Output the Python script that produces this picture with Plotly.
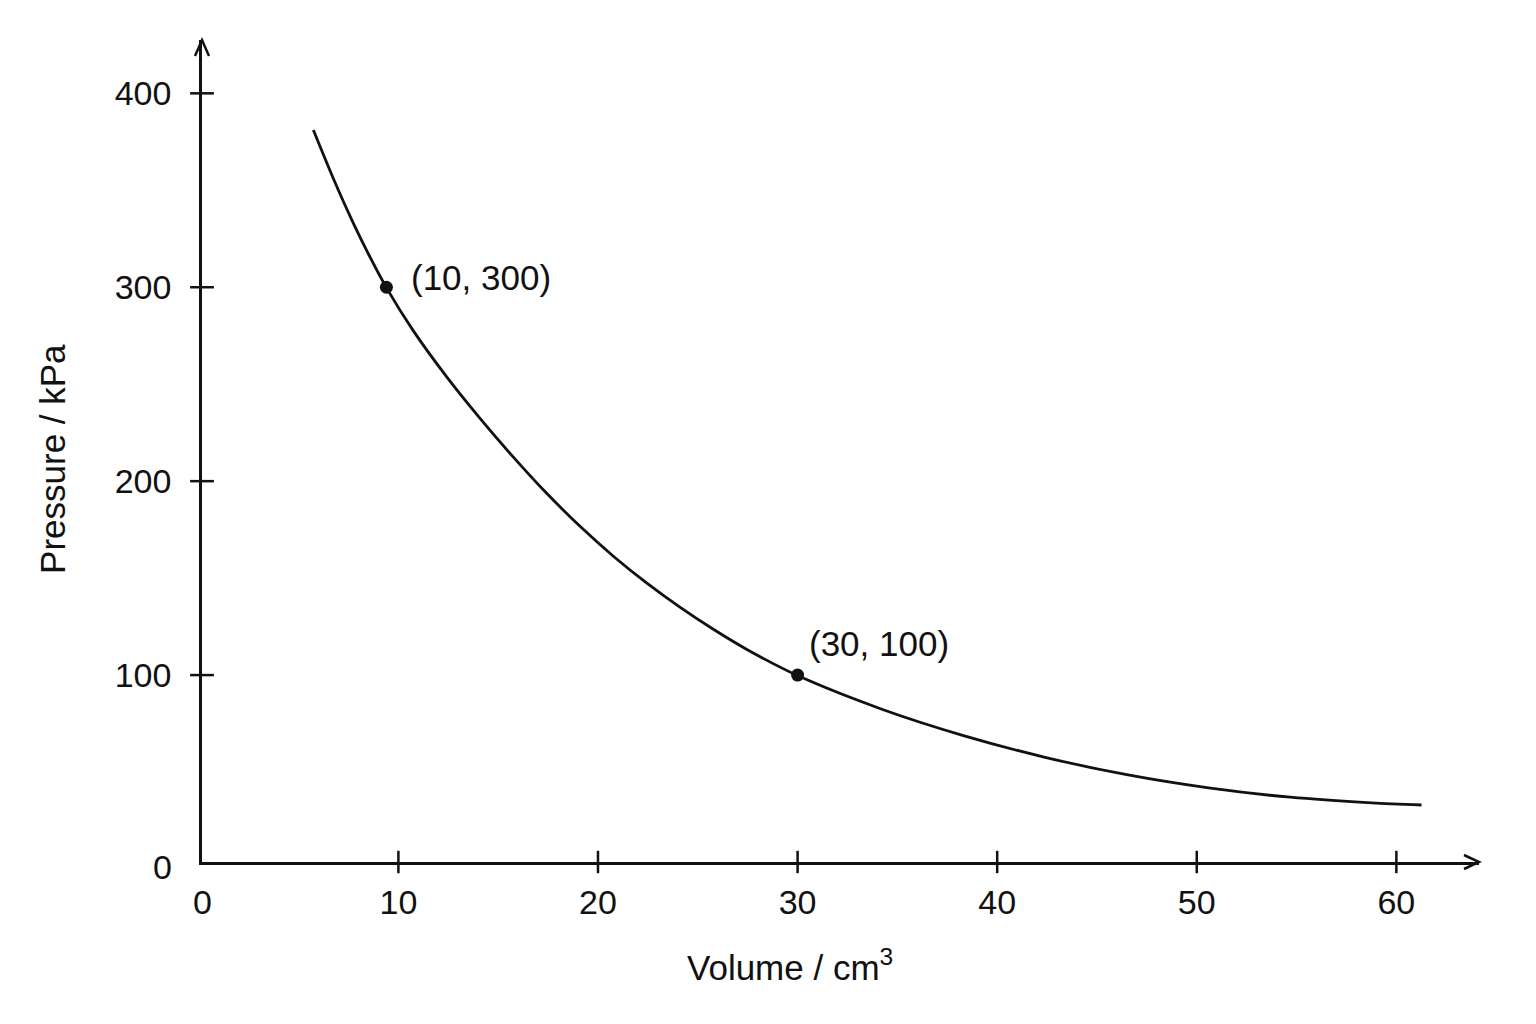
import plotly.graph_objects as go

# ---- data ----
volume = [5.74, 6.74, 7.74, 8.58, 9.42, 10.75, 12.42, 14.09, 15.76, 17.44,
          19.10, 20.77, 22.45, 24.12, 25.78, 27.46, 30.03, 34.22, 38.31, 42.40,
          46.49, 50.59, 54.68, 58.77, 61.26]
pressure = [381.1, 356.1, 333.1, 315.5, 299.4, 277.5, 253.8, 232.4, 212.4, 193.6,
            176.7, 161.3, 147.4, 134.9, 123.6, 113.2, 99.6, 82.4, 68.8, 57.6,
            48.6, 41.8, 37.0, 34.1, 33.0]

point_volume = [9.4, 30.0]
point_pressure = [300, 100]
point_labels = ["(10, 300)", "(30, 100)"]

x_tick_vals = [10, 20, 30, 40, 50, 60]
y_tick_vals = [100, 200, 300, 400]
origin_label = "0"

x_title = "Volume / cm<sup>3</sup>"
y_title = "Pressure / kPa"

# ---- axis extents (axis lines sit at the range starts, arrows at range ends) ----
X_START, X_END = 0.16, 64.14
Y_START, Y_END = 3.6, 427.5

FONT = "Liberation Sans, Arial, Helvetica, sans-serif"
INK = "#111111"
LW = 2.5
label_shifts = [(23, 10), (9, 32)]

fig = go.Figure()

# curve
fig.add_trace(go.Scatter(
    x=volume, y=pressure, mode="lines",
    line=dict(color=INK, width=2.8, shape="spline", smoothing=0.8),
    hoverinfo="skip", showlegend=False))

# labelled points
fig.add_trace(go.Scatter(
    x=point_volume, y=point_pressure, mode="markers",
    marker=dict(color=INK, size=13),
    hoverinfo="skip", showlegend=False))

# crossing tick marks
fig.add_trace(go.Scatter(
    x=x_tick_vals, y=[Y_START] * len(x_tick_vals), mode="markers",
    marker=dict(symbol="line-ns", size=16, color=INK, line=dict(color=INK, width=LW)),
    cliponaxis=False, hoverinfo="skip", showlegend=False))
fig.add_trace(go.Scatter(
    x=[X_START] * len(y_tick_vals), y=y_tick_vals, mode="markers",
    marker=dict(symbol="line-ew", size=17, color=INK, line=dict(color=INK, width=LW)),
    cliponaxis=False, hoverinfo="skip", showlegend=False))

annotations = []
for vx, py, txt, (dx, dy) in zip(point_volume, point_pressure, point_labels, label_shifts):
    annotations.append(dict(
        x=vx, y=py, xref="x", yref="y", text=txt, showarrow=False,
        xanchor="left", yanchor="middle", xshift=dx, yshift=dy,
        font=dict(family=FONT, size=35, color=INK)))

# origin labels
annotations.append(dict(x=0, y=0, xref="paper", yref="paper", text=origin_label,
                        showarrow=False, xanchor="center", yanchor="middle",
                        yshift=-40, font=dict(family=FONT, size=34, color=INK)))
annotations.append(dict(x=0, y=0, xref="paper", yref="paper", text=origin_label,
                        showarrow=False, xanchor="right", yanchor="middle",
                        xshift=-28, yshift=-5, font=dict(family=FONT, size=34, color=INK)))

# axis titles
annotations.append(dict(x=0.4606, y=-0.1253, xref="paper", yref="paper", text=x_title,
                        showarrow=False, xanchor="center", yanchor="middle",
                        font=dict(family=FONT, size=35, color=INK)))
annotations.append(dict(x=-0.1167, y=0.4903, xref="paper", yref="paper", text=y_title,
                        showarrow=False, xanchor="center", yanchor="middle", textangle=-90,
                        font=dict(family=FONT, size=35, color=INK)))

# open arrow heads at the axis ends
shapes = [
    dict(type="path", xref="paper", yref="paper", xsizemode="pixel", ysizemode="pixel",
         xanchor=0, yanchor=1, path="M-7,-16 L0,0 L7,-16",
         line=dict(color=INK, width=LW)),
    dict(type="path", xref="paper", yref="paper", xsizemode="pixel", ysizemode="pixel",
         xanchor=1, yanchor=0, path="M-15,7 L0,0 L-15,-7",
         line=dict(color=INK, width=LW)),
]

# page body has an 8px margin, so the figure is 16px smaller and shifted back
fig.update_layout(
    width=1520, height=1008,
    margin=dict(l=194, r=49.4, t=32, b=154, pad=0),
    paper_bgcolor="white", plot_bgcolor="white",
    showlegend=False,
    annotations=annotations, shapes=shapes,
    xaxis=dict(range=[X_START, X_END], tickvals=x_tick_vals, ticks="",
               showline=True, linecolor=INK, linewidth=LW, showgrid=False, zeroline=False,
               tickfont=dict(family=FONT, size=34, color=INK), ticklabelstandoff=8,
               fixedrange=True),
    yaxis=dict(range=[Y_START, Y_END], tickvals=y_tick_vals, ticks="",
               showline=True, linecolor=INK, linewidth=LW, showgrid=False, zeroline=False,
               tickfont=dict(family=FONT, size=34, color=INK), ticklabelstandoff=21,
               fixedrange=True),
)

fig.write_html("out.html")
